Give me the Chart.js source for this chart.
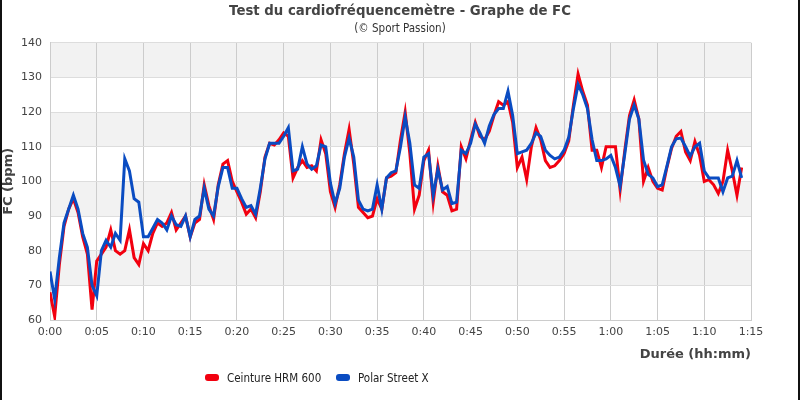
<!DOCTYPE html>
<html lang="fr">
<head>
<meta charset="utf-8">
<title>Test du cardiofréquencemètre</title>
<script src="https://cdn.jsdelivr.net/npm/chart.js@4.4.1/dist/chart.umd.min.js"></script>
<style>
    html, body { margin: 0; padding: 0; background: #fff; }
    #wrap { position: relative; width: 800px; height: 400px; font-family: "DejaVu Sans Condensed", "DejaVu Sans", sans-serif; }
    #wrap:after { content: ""; position: absolute; inset: 0; border-left: 2px solid #111; border-right: 2px solid #111; pointer-events: none; }
    #legend { position: absolute; top: 371px; left: 205px; font-size: 11.5px; color: #222; white-space: nowrap; }
    #legend span.item { position: absolute; top: 0; }
    #legend i { display: inline-block; width: 14px; height: 7px; border-radius: 3px; vertical-align: 1px; margin-right: 8px; }
</style>
</head>
<body>
<div id="wrap">
    <canvas id="hrChart" width="800" height="400"></canvas>
    <div id="legend"></div>
</div>
<script>
// sampling interval of both recordings, in minutes
const STEP_MIN = 0.5;

// x axis tick labels (every 5 minutes)
const xTickLabels = ['0:00', '0:05', '0:10', '0:15', '0:20', '0:25', '0:30', '0:35',
    '0:40', '0:45', '0:50', '0:55', '1:00', '1:05', '1:10', '1:15'];

// Ceinture HRM 600 (red)
const hrmBpm = [
    68, 61, 76, 87, 92, 95, 91, 84, 79, 63,
    77, 79, 81, 86, 80, 79, 80, 86, 78, 76,
    82, 80, 85, 88, 87, 88, 91, 86, 88, 90,
    84, 88, 89, 99, 93, 89, 99, 105, 106, 100,
    97, 94, 90.5, 92, 89.5, 97, 107, 111, 110.5, 112,
    114, 113, 101, 104, 106, 104, 104.5, 103, 112, 108,
    97, 92.5, 99, 108, 115, 105, 92.5, 91, 89.5, 90,
    95, 92, 101, 101.5, 102.5, 112, 120, 108, 92, 96,
    106, 109, 94, 104.5, 97, 96, 91.5, 92, 110, 106.5,
    112, 117, 113, 112, 114.5, 119, 123, 122, 123, 117,
    104, 107, 100.5, 110, 115.5, 112, 106, 104, 104.5, 106,
    108, 111.7, 122, 131, 126, 122, 109, 109, 104, 110,
    110, 110, 97.5, 109, 119, 123.5, 118, 100, 104, 100,
    98, 97.5, 104, 109.5, 113, 114.4, 108.5, 106, 111.5, 107.5,
    100, 100.5, 99, 96.5, 100, 109, 103, 96, 104
];

// Polar Street X (blue)
const polarBpm = [
    74, 66, 78, 88, 92, 96, 92, 85, 81, 70,
    67, 80, 83, 81, 85, 83, 106.5, 103, 95, 94,
    84, 84, 86.5, 89, 88, 86, 90, 87.5, 87, 90,
    84, 89, 90, 98, 92, 90, 98.5, 104, 104, 98,
    98, 95, 92.5, 93, 90.5, 98, 106.5, 111, 111, 111,
    113, 115.5, 103, 103.5, 110, 105, 103.5, 104.5, 110.5, 110,
    99.5, 93.6, 98, 107, 112.5, 107, 94.6, 92, 91.5, 92,
    99, 92, 101, 102.5, 103, 110, 118.5, 111, 99, 98,
    107, 108, 96, 103.5, 97.5, 98.5, 93.6, 94, 109, 108,
    111, 116.5, 114, 111, 116, 119.3, 121, 121, 126, 119,
    108, 108.5, 109, 111, 114, 113, 109, 107.5, 106.5, 107,
    109, 112.7, 121, 128, 125, 121, 112, 106, 106, 106.5,
    107.5, 104, 98.6, 108, 118, 122, 118, 106.2, 102, 101,
    98.5, 99, 104.3, 110, 112.3, 112.5, 110, 107.3, 110, 111,
    103, 101, 101, 101, 97, 101, 101.5, 106, 101
];

const RED = '#f2000f';
const BLUE = '#0a4cc2';

// alternating light grey bands behind the grid (bpm ranges)
const shadedBands = [[70, 80], [90, 100], [110, 120], [130, 140]];

function toPoints(values) {
    return values.map((v, i) => ({ x: i * STEP_MIN, y: v }));
}

const bandsPlugin = {
    id: 'bands',
    beforeDraw(chart) {
        const { ctx, chartArea, scales } = chart;
        ctx.save();
        ctx.fillStyle = '#f2f2f2';
        shadedBands.forEach(([lo, hi]) => {
            const top = scales.y.getPixelForValue(hi);
            const bottom = scales.y.getPixelForValue(lo);
            ctx.fillRect(chartArea.left, top, chartArea.right - chartArea.left, bottom - top);
        });
        ctx.restore();
    }
};

Chart.defaults.font.family = '"DejaVu Sans", sans-serif';

document.addEventListener('DOMContentLoaded', function() {
    const datasets = [
        { label: 'Ceinture HRM 600', data: toPoints(hrmBpm), borderColor: RED, backgroundColor: RED, order: 1 },
        { label: 'Polar Street X', data: toPoints(polarBpm), borderColor: BLUE, backgroundColor: BLUE, order: 0 }
    ];

    const ctx = document.getElementById('hrChart').getContext('2d');
    new Chart(ctx, {
        type: 'line',
        data: { datasets: datasets },
        options: {
            responsive: false,
            animation: false,
            layout: { padding: { left: 0, right: 0, top: 0, bottom: 38 } },
            elements: {
                line: { borderWidth: 3, tension: 0 },
                point: { radius: 0 }
            },
            scales: {
                x: {
                    type: 'linear',
                    min: 0,
                    max: 75,
                    afterFit: (scale) => { scale.height = 42; },
                    ticks: {
                        stepSize: 5,
                        maxRotation: 0,
                        padding: 6,
                        color: '#444',
                        font: { size: 11 },
                        callback: (value) => xTickLabels[Math.round(value / 5)]
                    },
                    grid: { color: '#cccccc', drawTicks: false },
                    border: { color: '#cccccc' },
                    title: {
                        display: true,
                        text: 'Durée (hh:mm)',
                        align: 'end',
                        color: '#444',
                        font: { size: 13, weight: 'bold' },
                        padding: { top: 3, bottom: 0 }
                    }
                },
                y: {
                    min: 60,
                    max: 140,
                    afterFit: (scale) => { scale.width = 50; },
                    ticks: {
                        stepSize: 10,
                        padding: 8,
                        color: '#444',
                        font: { size: 11 }
                    },
                    grid: { color: '#dddddd', drawTicks: false },
                    border: { color: '#cccccc' },
                    title: {
                        display: true,
                        text: 'FC (bpm)',
                        color: '#444',
                        font: { size: 13, weight: 'bold' },
                        padding: { top: 1, bottom: 0 }
                    }
                },
                // empty right-hand margin so the titles stay centred on the page
                yRight: {
                    position: 'right',
                    min: 60,
                    max: 140,
                    afterFit: (scale) => { scale.width = 49; },
                    ticks: { display: false },
                    grid: { display: false },
                    border: { display: false }
                }
            },
            plugins: {
                legend: { display: false },
                tooltip: { enabled: false },
                title: {
                    display: true,
                    text: 'Test du cardiofréquencemètre - Graphe de FC',
                    color: '#444',
                    font: { size: 13.3, weight: 'bold' },
                    padding: { top: 4, bottom: 2 }
                },
                subtitle: {
                    display: true,
                    text: '(© Sport Passion)',
                    color: '#333',
                    font: { size: 11.5, family: '"DejaVu Sans Condensed", "DejaVu Sans", sans-serif' },
                    padding: { top: 0, bottom: 7 }
                }
            }
        },
        plugins: [bandsPlugin]
    });

    // legend below the chart
    const legend = document.getElementById('legend');
    const offsets = [0, 131];
    datasets.forEach((ds, i) => {
        const item = document.createElement('span');
        item.className = 'item';
        item.style.left = offsets[i] + 'px';
        item.innerHTML = '<i style="background:' + ds.borderColor + '"></i>' + ds.label;
        legend.appendChild(item);
    });
});
</script>
</body>
</html>
